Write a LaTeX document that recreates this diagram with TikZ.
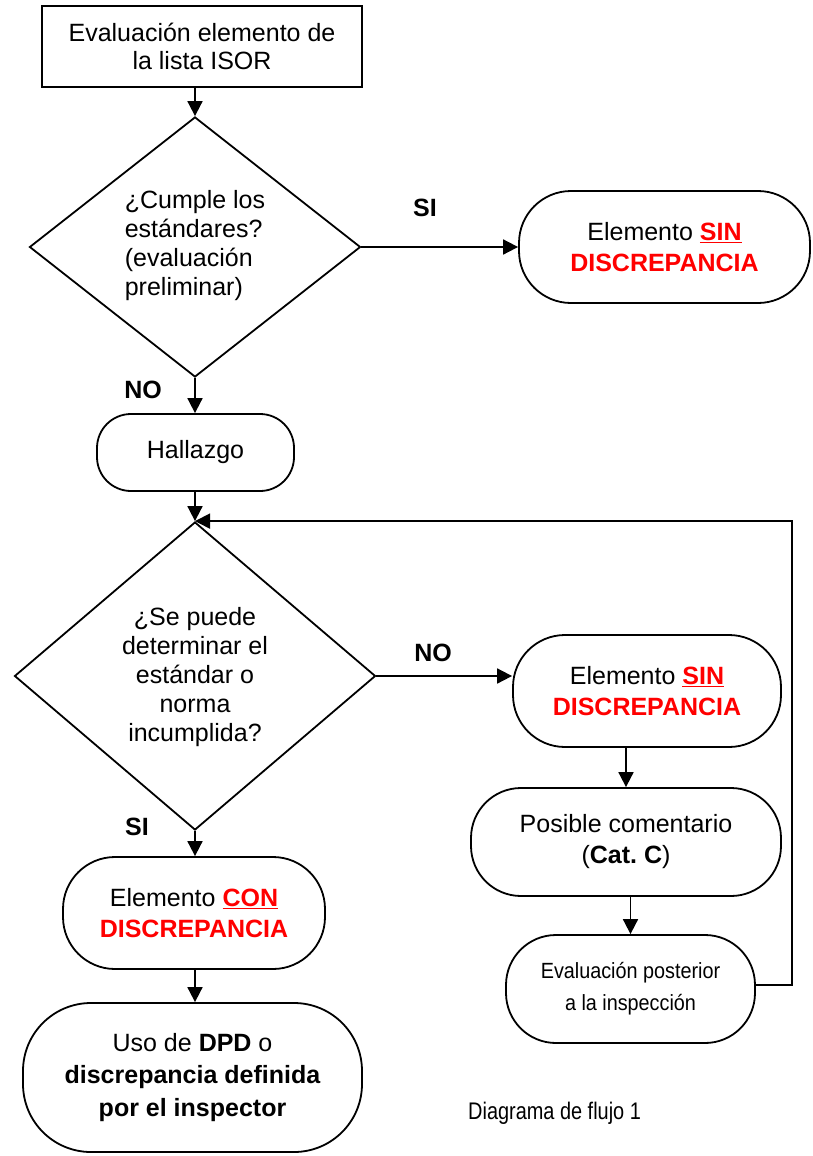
\documentclass[tikz,border=0pt]{standalone}
\usepackage{fontspec}
\setmainfont{Liberation Sans}
\newfontfamily\narrowA[FakeStretch=0.9]{Liberation Sans}
\newfontfamily\narrowB[FakeStretch=0.83]{Liberation Sans}
\usetikzlibrary{shapes.geometric,arrows.meta,calc}
\definecolor{redtxt}{RGB}{255,0,0}
\newcommand{\redb}[1]{\textcolor{redtxt}{\textbf{#1}}}
\newcommand{\redu}[1]{\textcolor{redtxt}{\underline{\textbf{#1}}}}
\tikzset{
  lw/.style={line width=1.8pt},
  arr/.style={lw,-{Triangle[length=15pt,width=15pt]}},
  txt/.style={font=\fontsize{25}{31}\selectfont, align=center},
  dtxt/.style={font=\fontsize{25}{29}\selectfont},
  rbox/.style={draw, lw, rectangle, inner sep=0pt, txt},
  dbox/.style={draw, lw, diamond, inner sep=0pt},
  lab/.style={font=\fontsize{25}{29}\selectfont\bfseries}
}
\begin{document}
\begin{tikzpicture}[x=1pt,y=-1pt]
\useasboundingbox (0,0) rectangle (812,1156);
% top box
\node[rbox, minimum width=320pt, minimum height=81pt, font=\fontsize{25}{28}\selectfont] (top) at (202,46.5) {Evaluación elemento de\\la lista ISOR};
% diamond 1
\node[dbox, minimum width=331pt, minimum height=260pt] (d1) at (195,247) {};
\node[dtxt, align=left] (d1t) at (195,246) {¿Cumple los\\estándares?\\(evaluación\\preliminar)};
% SIN 1
\node[rbox, rounded corners=52pt, minimum width=291pt, minimum height=112pt] (sin1) at (664.5,247) {Elemento \redu{SIN}\\\redb{DISCREPANCIA}};
% Hallazgo
\node[rbox, rounded corners=34pt, minimum width=197pt, minimum height=77pt] (hall) at (195.5,452.5) {Hallazgo};
% diamond 2
\node[dbox, minimum width=361pt, minimum height=308pt] (d2) at (195,676) {};
\node[dtxt, align=center] (d2t) at (195,677) {¿Se puede\\determinar el\\estándar o\\norma\\incumplida?};
% SIN 2
\node[rbox, rounded corners=52pt, minimum width=268pt, minimum height=112pt] (sin2) at (647,691) {Elemento \redu{SIN}\\\redb{DISCREPANCIA}};
% Posible comentario
\node[rbox, rounded corners=50pt, minimum width=310pt, minimum height=108pt] (pos) at (626,842) {Posible comentario\\(\textbf{Cat.\ C})};
% Evaluacion posterior
\node[rbox, rounded corners=50pt, minimum width=249pt, minimum height=108pt, font=\narrowA\fontsize{22}{32}\selectfont] (evp) at (630.5,989) {Evaluación posterior\\a la inspección};
% CON
\node[rbox, rounded corners=52pt, minimum width=262pt, minimum height=112pt] (con) at (194,913) {Elemento \redu{CON}\\\redb{DISCREPANCIA}};
% Uso de DPD
\node[rbox, rounded corners=68pt, minimum width=339pt, minimum height=149pt, font=\fontsize{25}{32.5}\selectfont] (uso) at (192.5,1077.5) {Uso de \textbf{DPD} o\\\textbf{discrepancia definida}\\\textbf{por el inspector}};
% caption
\node[font=\narrowB\fontsize{24}{29}\selectfont, anchor=west, inner sep=0pt] (cap) at (468,1113) {Diagrama de flujo 1};
% labels
\node[lab] (si1) at (425,208) {SI};
\node[lab] (no1) at (143,390) {NO};
\node[lab] (no2) at (433,653) {NO};
\node[lab] (si2) at (137,827) {SI};
% connectors
\draw[arr] (top.south -| d1.north) -- (d1.north);
\draw[arr] (d1.east) -- (sin1.west);
\draw[arr] (d1.south) -- (d1.south |- hall.north);
\draw[arr] (hall.south -| d2.north) -- (d2.north);
\draw[arr] (d2.east) -- (d2.east -| sin2.west);
\draw[arr] (sin2.south -| pos.north) -- (pos.north);
\draw[arr] (pos.south -| evp.north) -- (evp.north);
\coordinate (loopc) at (792,985);
\draw[arr] (evp.east |- loopc) -- (loopc) |- (d2.north);
\draw[arr] (d2.south) -- (d2.south |- con.north);
\draw[arr] (con.south -| d2.south) -- (d2.south |- uso.north);
\end{tikzpicture}
\end{document}
